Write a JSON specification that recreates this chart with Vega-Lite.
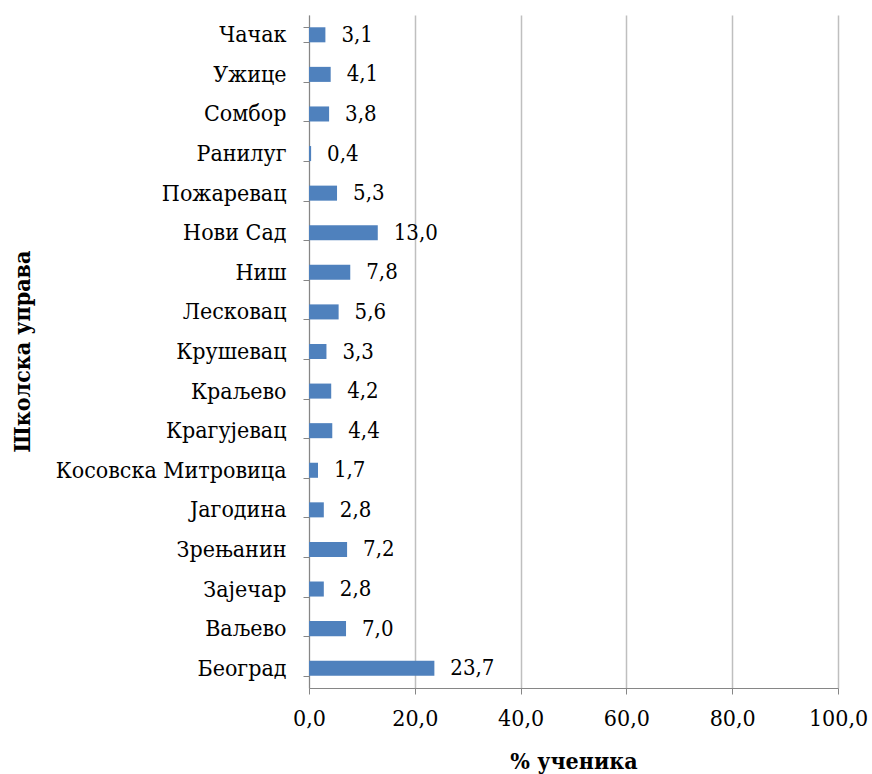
{
  "$schema": "https://vega.github.io/schema/vega-lite/v6.json",
  "autosize": {"type": "none"},
  "padding": {"left": 309, "top": 15, "right": 34, "bottom": 86},
  "width": 529,
  "height": 673,
  "background": "white",
  "config": {
    "locale": {"number": {"decimal": ",", "thousands": ".", "grouping": [3], "currency": ["", ""]}},
    "view": {"stroke": null},
    "font": "DejaVu Serif Condensed, DejaVu Serif, serif"
  },
  "data": {
    "values": [
      {"uprava": "Чачак", "procenat": 3.1},
      {"uprava": "Ужице", "procenat": 4.1},
      {"uprava": "Сомбор", "procenat": 3.8},
      {"uprava": "Ранилуг", "procenat": 0.4},
      {"uprava": "Пожаревац", "procenat": 5.3},
      {"uprava": "Нови Сад", "procenat": 13.0},
      {"uprava": "Ниш", "procenat": 7.8},
      {"uprava": "Лесковац", "procenat": 5.6},
      {"uprava": "Крушевац", "procenat": 3.3},
      {"uprava": "Краљево", "procenat": 4.2},
      {"uprava": "Крагујевац", "procenat": 4.4},
      {"uprava": "Косовска Митровица", "procenat": 1.7},
      {"uprava": "Јагодина", "procenat": 2.8},
      {"uprava": "Зрењанин", "procenat": 7.2},
      {"uprava": "Зајечар", "procenat": 2.8},
      {"uprava": "Ваљево", "procenat": 7.0},
      {"uprava": "Београд", "procenat": 23.7}
    ]
  },
  "encoding": {
    "y": {
      "field": "uprava",
      "type": "nominal",
      "sort": null,
      "scale": {"paddingInner": 0.62, "paddingOuter": 0.31},
      "axis": {
        "title": "Школска управа",
        "titleFont": "DejaVu Serif Condensed, DejaVu Serif, serif",
        "titleFontSize": 23,
        "titleFontWeight": "bold",
        "titleColor": "black",
        "titleX": -287,
        "titleY": 336,
        "titleAngle": -90,
        "titleAlign": "center",
        "titleBaseline": "middle",
        "labelFont": "DejaVu Serif Condensed, DejaVu Serif, serif",
        "labelFontSize": 23,
        "labelColor": "black",
        "labelPadding": 17,
        "labelLimit": 400,
        "tickBand": "extent",
        "tickSize": 6,
        "tickColor": "#868686",
        "domainColor": "#868686",
        "grid": false
      }
    },
    "x": {
      "field": "procenat",
      "type": "quantitative",
      "scale": {"domain": [0, 100], "nice": false},
      "axis": {
        "title": "% ученика",
        "titleFont": "DejaVu Serif Condensed, DejaVu Serif, serif",
        "titleFontSize": 23,
        "titleFontWeight": "bold",
        "titleColor": "black",
        "titlePadding": 20,
        "values": [0, 20, 40, 60, 80, 100],
        "format": ".1f",
        "labelFont": "DejaVu Serif Condensed, DejaVu Serif, serif",
        "labelFontSize": 23,
        "labelColor": "black",
        "labelPadding": 13,
        "labelFlush": false,
        "tickSize": 6,
        "tickColor": "#868686",
        "domainColor": "#868686",
        "grid": true,
        "gridColor": "#BFBFBF",
        "gridWidth": 1.5
      }
    }
  },
  "layer": [
    {"mark": {"type": "bar", "color": "#4F81BD"}},
    {
      "mark": {"type": "text", "align": "left", "baseline": "middle", "dx": 16, "font": "DejaVu Serif Condensed, DejaVu Serif, serif", "fontSize": 22, "color": "black"},
      "encoding": {"text": {"field": "procenat", "type": "quantitative", "format": ".1f"}}
    }
  ]
}
